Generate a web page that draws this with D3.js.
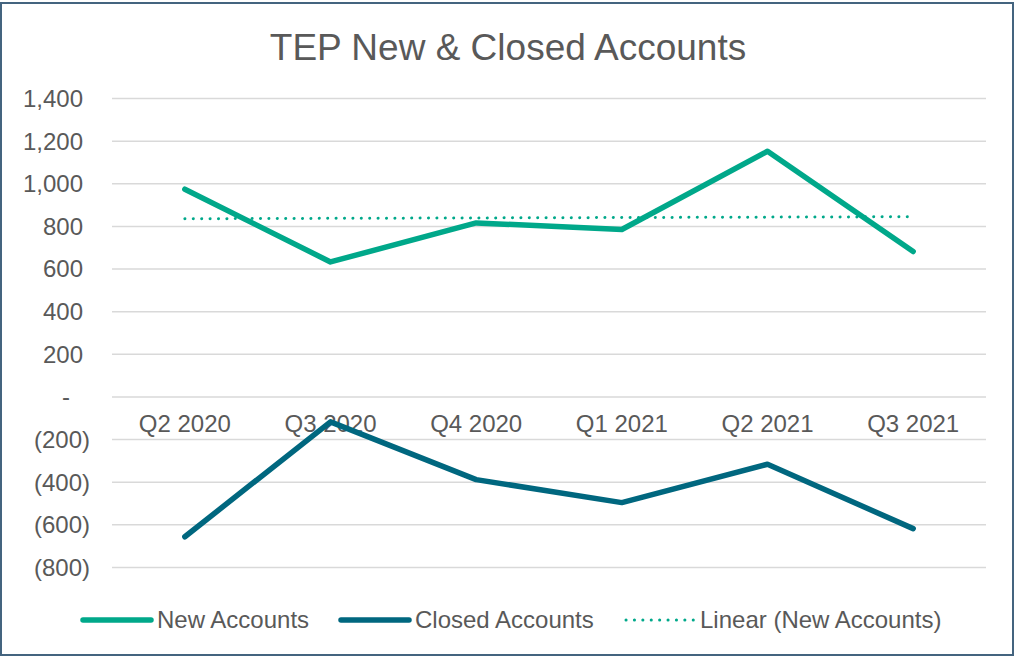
<!DOCTYPE html>
<html><head><meta charset="utf-8">
<script src="https://cdn.jsdelivr.net/npm/d3@7"></script>
<style>body{margin:0;background:#fff}svg{display:block}text{font-family:"Liberation Sans",Arial,sans-serif}</style>
</head><body>
<svg id="c" width="1015" height="658"></svg>
<script>
const categories = ["Q2 2020","Q3 2020","Q4 2020","Q1 2021","Q2 2021","Q3 2021"];
const newAccounts = [972, 631, 814, 783, 1150, 680];
const closedAccounts = [-658, -119, -390, -498, -318, -620];
const yTicks = [1400,1200,1000,800,600,400,200,0,-200,-400,-600,-800];
const legendLabels = ["New Accounts","Closed Accounts","Linear (New Accounts)"];

const svg = d3.select("#c");
const cNew="#00a88a", cClosed="#00677f", grid="#d9d9d9", txt="#595959";
const FF='"Liberation Sans",Arial,sans-serif';
svg.append("rect").attr("x",1).attr("y",3).attr("width",1012).attr("height",652)
  .attr("fill","#fff").attr("stroke","#44647f").attr("stroke-width",2);

const x = d3.scaleBand().domain(categories).range([112,986]);
const y = d3.scaleLinear().domain([-800,1400]).range([567,98]);

svg.append("text").attr("x",508).attr("y",60).attr("text-anchor","middle")
  .attr("font-size",37).attr("fill",txt).text("TEP New & Closed Accounts");

const fmt = v => v===0 ? "-" : (v<0 ? "(" + d3.format(",")(-v) + ")" : d3.format(",")(v));
const yAxis = d3.axisLeft(y).tickValues(yTicks).tickFormat(fmt).tickSize(-(986-112)).tickPadding(28);
const gy = svg.append("g").attr("transform","translate(112,0)").call(yAxis);
gy.select(".domain").remove();
gy.selectAll(".tick line").attr("stroke",grid).attr("stroke-width",1.5);
// accounting-style alignment: positives padded for ")", zero dash further in
gy.selectAll(".tick text").attr("font-size",24).attr("fill",txt).attr("dy","0.35em")
  .attr("x",d => d<0 ? -22 : (d===0 ? -42 : -29))
  .style("font-family",FF);

const xAxis = d3.axisBottom(x).tickSize(0).tickPadding(0);
const gx = svg.append("g").attr("transform","translate(0,"+y(0)+")").call(xAxis);
gx.select(".domain").remove();
gx.selectAll(".tick text").attr("font-size",24).attr("fill",txt).attr("y",36).attr("dy",0)
  .style("font-family",FF);

// trendline (least squares on newAccounts)
const n=newAccounts.length, xs=d3.range(1,n+1);
const mx=d3.mean(xs), my=d3.mean(newAccounts);
const slope=d3.sum(xs.map((xi,i)=>(xi-mx)*(newAccounts[i]-my)))/d3.sum(xs.map(xi=>(xi-mx)**2));
const icpt=my-slope*mx;
const trend=categories.map((c,i)=>icpt+slope*(i+1));

const cx = c => x(c)+x.bandwidth()/2;
const line = d3.line().x((d,i)=>cx(categories[i])).y(d=>y(d));
svg.append("path").datum(trend).attr("d",line).attr("fill","none").attr("stroke",cNew)
  .attr("stroke-width",3).attr("stroke-linecap","round").attr("stroke-dasharray","0.1 8.3");
svg.append("path").datum(newAccounts).attr("d",line).attr("fill","none").attr("stroke",cNew)
  .attr("stroke-width",5.5).attr("stroke-linecap","round").attr("stroke-linejoin","round");
svg.append("path").datum(closedAccounts).attr("d",line).attr("fill","none").attr("stroke",cClosed)
  .attr("stroke-width",5.5).attr("stroke-linecap","round").attr("stroke-linejoin","round");

// legend
const leg=[{x:83,c:cNew,d:null},{x:341,c:cClosed,d:null},{x:626,c:cNew,d:"0.1 8.3"}];
leg.forEach((l,i)=>{
  const p=svg.append("line").attr("x1",l.x).attr("x2",l.x+68).attr("y1",620).attr("y2",620)
    .attr("stroke",l.c).attr("stroke-linecap","round").attr("stroke-width",l.d?3:5.5);
  if(l.d) p.attr("stroke-dasharray",l.d);
  svg.append("text").attr("x",l.x+74).attr("y",628).attr("font-size",24)
    .attr("fill",txt).text(legendLabels[i]);
});
</script>
</body></html>
